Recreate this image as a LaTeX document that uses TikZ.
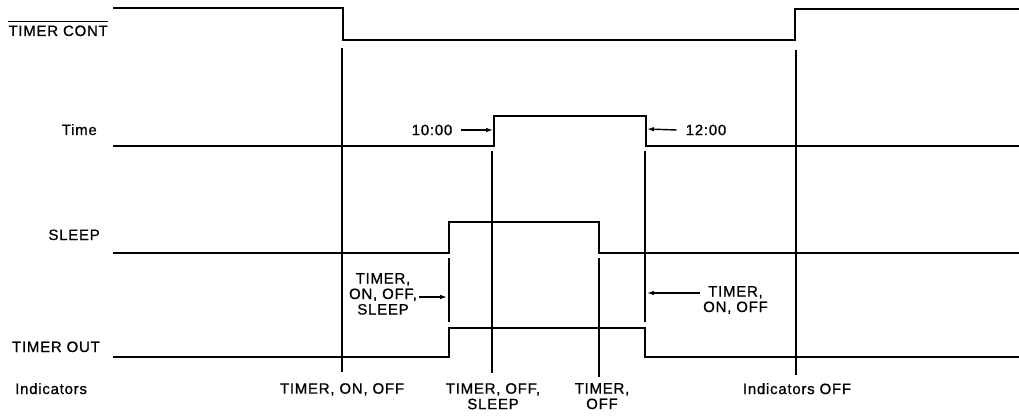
\documentclass[tikz,border=0pt]{standalone}
\usepackage{fontspec}
\setmainfont{Liberation Sans}[LetterSpace=5, FakeBold=0.8]
\usepackage{tikz}
\usetikzlibrary{arrows.meta, positioning, calc}

\begin{document}
\begin{tikzpicture}[
    x=1pt, y=-1pt,
    font=\fontsize{15}{15.5}\selectfont,
    wave/.style={
        draw,
        line width=2.8pt,
        line join=miter
    },
    guide/.style={
        draw,
        line width=1.6pt
    },
    signame/.style={
        inner sep=0pt,
        anchor=base east
    },
    event/.style={
        inner sep=0pt,
        align=center,
        anchor=north
    },
    line/.style={
        draw,
        -{Latex[length=2.4mm, width=1.6mm]},
        line width=1.4pt
    }
]
    \useasboundingbox (0,0) rectangle (1019,417);

    % signal names
    \node [signame] (cont) at (108,36) {TIMER CONT};
    \draw [line width=1.2pt] ([yshift=4pt]cont.north west) -- ([yshift=4pt]cont.north east);
    \node [signame] (time) at (97,135) {Time};
    \node [signame] (sleep) at (100,240) {SLEEP};
    \node [signame] (tout) at (100,352) {TIMER OUT};
    \node [inner sep=0pt, anchor=base west] (ind) at (15,394) {Indicators};

    % waveforms
    \draw [wave] (113,8) -- (343,8) -- (343,40) -- (795,40) -- (795,9) -- (1019,9);
    \draw [wave] (113,146) -- (494,146) -- (494,116) -- (646,116) -- (646,146) -- (1019,146);
    \draw [wave] (113,253) -- (449,253) -- (449,222) -- (599,222) -- (599,253) -- (1019,253);
    \draw [wave] (113,357) -- (449,357) -- (449,328) -- (645,328) -- (645,357) -- (1019,357);

    % event markers
    \coordinate (evon) at (342,48);
    \coordinate (evsleep) at (492,151);
    \coordinate (evoff) at (599,258);
    \coordinate (evout) at (449,258);
    \coordinate (evend) at (645,151);
    \coordinate (evind) at (796,50);

    \draw [guide] (evon) -- (evon |- 0,372);
    \draw [guide] (evsleep) -- (evsleep |- 0,373);
    \draw [guide, line width=2.2pt] (evoff) -- (evoff |- 0,377);
    \draw [guide] (evout) -- (evout |- 0,322);
    \draw [guide] (evend) -- (evend |- 0,322);
    \draw [guide] (evind) -- (evind |- 0,375);

    % indicator texts
    \node [event] (aon) at (342,383) {TIMER, ON, OFF};
    \node [event] (asleep) at (493,383) {TIMER, OFF,\\SLEEP};
    \node [event] (aoff) at (602,383) {TIMER,\\OFF};
    \node [event] (aind) at (797,383) {Indicators OFF};

    % key presses
    \node [inner sep=0pt] (t10) at (432,130) {10:00};
    \node [inner sep=0pt] (t12) at (706,130) {12:00};
    \node [event] (kon) at (383,273) {TIMER,\\ON, OFF,\\SLEEP};
    \node [event, anchor=north west] (koff) at (703,286) {TIMER,\\ON, OFF};

    \coordinate (rise10) at (493,130);
    \coordinate (fall12) at (647,129);
    \coordinate (pressin) at (447,297);
    \coordinate (pressout) at (647,293);

    \draw [line] ([xshift=9pt]t10.east) -- (rise10);
    \draw [line] ([xshift=-9pt]t12.west) -- (fall12);
    \draw [line] ([xshift=2pt]kon.east |- pressin) -- (pressin);
    \draw [line] ([xshift=-3pt]koff.west |- pressout) -- (pressout);

\end{tikzpicture}
\end{document}
